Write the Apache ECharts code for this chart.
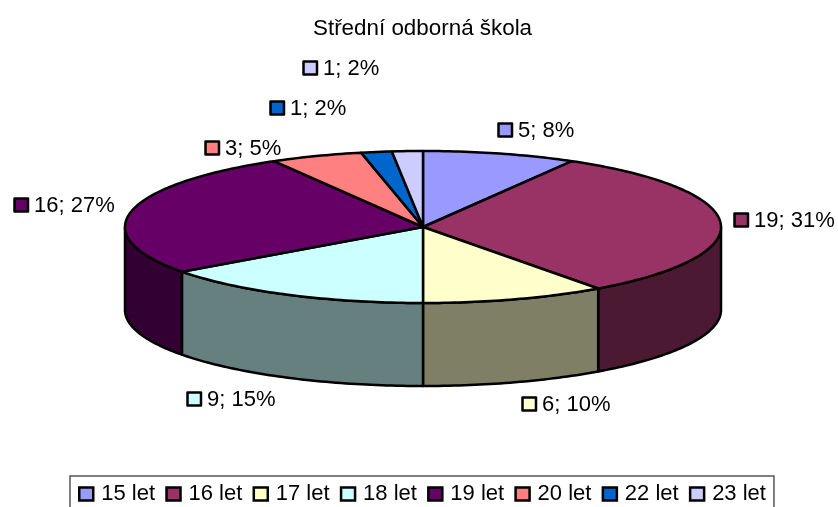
<!DOCTYPE html>
<html>
<head>
<meta charset="utf-8">
<style>html,body{margin:0;padding:0;background:#fff}#c{width:838px;height:507px}</style>
<script src="https://cdn.jsdelivr.net/npm/echarts@6/dist/echarts.min.js"></script>
</head>
<body>
<div id="c"></div>
<script>
const chartTitle = 'Střední odborná škola';
const categories = ['15 let','16 let','17 let','18 let','19 let','20 let','22 let','23 let'];
const counts = [5,19,6,9,16,3,1,1];
const percents = [8,31,10,15,27,5,2,2];
const topColors = ['#9999FF','#993366','#FFFFCC','#CCFFFF','#660066','#FF8080','#0066CC','#CCCCFF'];
const wallColors = ['#4C4C7F','#4C1933','#7F7F66','#667F7F','#330033','#7F4040','#003366','#66667F'];

// Layout of the tilted disc and of the hand-placed label callouts (offset from the rim at mid-angle)
const CX = 423, CY = 227, RX = 298, RY = 76, DEPTH = 83;
const FONT = '22px "Liberation Sans", Arial, sans-serif';
const labelOffsets = [[5,-24],[20,-3],[14,105],[-94,104],[-111,-6],[-104,-8],[-99,-44],[-97,-83]];

const total = counts.reduce((a,b)=>a+b,0);
function rim(deg, dy){
  const t = deg*Math.PI/180;
  return [CX+RX*Math.sin(t), CY-RY*Math.cos(t)+(dy||0)];
}
function arc(a,b,dy){
  const pts=[], n=Math.max(2,Math.ceil(Math.abs(b-a)));
  for(let i=0;i<=n;i++) pts.push(rim(a+(b-a)*i/n,dy));
  return pts;
}
function renderSlice(params, api){
  const i = params.seriesIndex;
  const value = api.value(0);
  const before = counts.slice(0,i).reduce((a,b)=>a+b,0);
  const a0 = before/total*360, a1 = (before+value)/total*360;
  const line = {stroke:'#000', lineWidth:2.5, lineJoin:'round'};
  const children = [];
  const w0 = Math.max(a0,90), w1 = Math.min(a1,270);
  if (w1>w0){
    children.push({type:'polygon',
      shape:{points:arc(w0,w1,0).concat(arc(w1,w0,DEPTH))},
      style:Object.assign({fill:wallColors[i]},line)});
  }
  children.push({type:'polygon',
    shape:{points:[[CX,CY]].concat(arc(a0,a1,0))},
    style:Object.assign({fill:topColors[i]},line)});
  const p = rim((a0+a1)/2,0), off = labelOffsets[i];
  const bx = Math.round(p[0]+off[0]), by = Math.round(p[1]+off[1]);
  children.push({type:'rect', z2:5,
    shape:{x:bx-6.5,y:by-6.5,width:13.5,height:13},
    style:Object.assign({fill:topColors[i]},line)});
  children.push({type:'text', z2:5,
    style:{x:bx+13,y:by+1,text:value+'; '+percents[i]+'%',fill:'#000',font:FONT,textAlign:'left',textVerticalAlign:'middle'}});
  return {type:'group',children};
}

const chart = echarts.init(document.getElementById('c'),null,{renderer:'canvas'});
chart.setOption({
  animation:false,
  backgroundColor:'#fff',
  title:{text:chartTitle,left:313,top:18,padding:0,
    textStyle:{fontFamily:'"Liberation Sans", Arial, sans-serif',fontSize:22.4,fontWeight:'normal',color:'#000'}},
  tooltip:{show:false},
  legend:{
    data:categories,left:70,top:476,orient:'horizontal',
    icon:'rect',itemWidth:14,itemHeight:13,itemGap:10.2,
    padding:[7,8,24,8],borderColor:'#555',borderWidth:1.5,
    itemStyle:{borderColor:'#000',borderWidth:2.5},
    selectedMode:false,
    textStyle:{fontFamily:'"Liberation Sans", Arial, sans-serif',fontSize:22,color:'#000',padding:[0,0,0,3]}
  },
  series:categories.map((name,i)=>({
    type:'custom',name,coordinateSystem:'none',silent:true,
    itemStyle:{color:topColors[i]},
    renderItem:renderSlice,
    data:[[counts[i]]],
    z:2+i
  }))
});
</script>
</body>
</html>
